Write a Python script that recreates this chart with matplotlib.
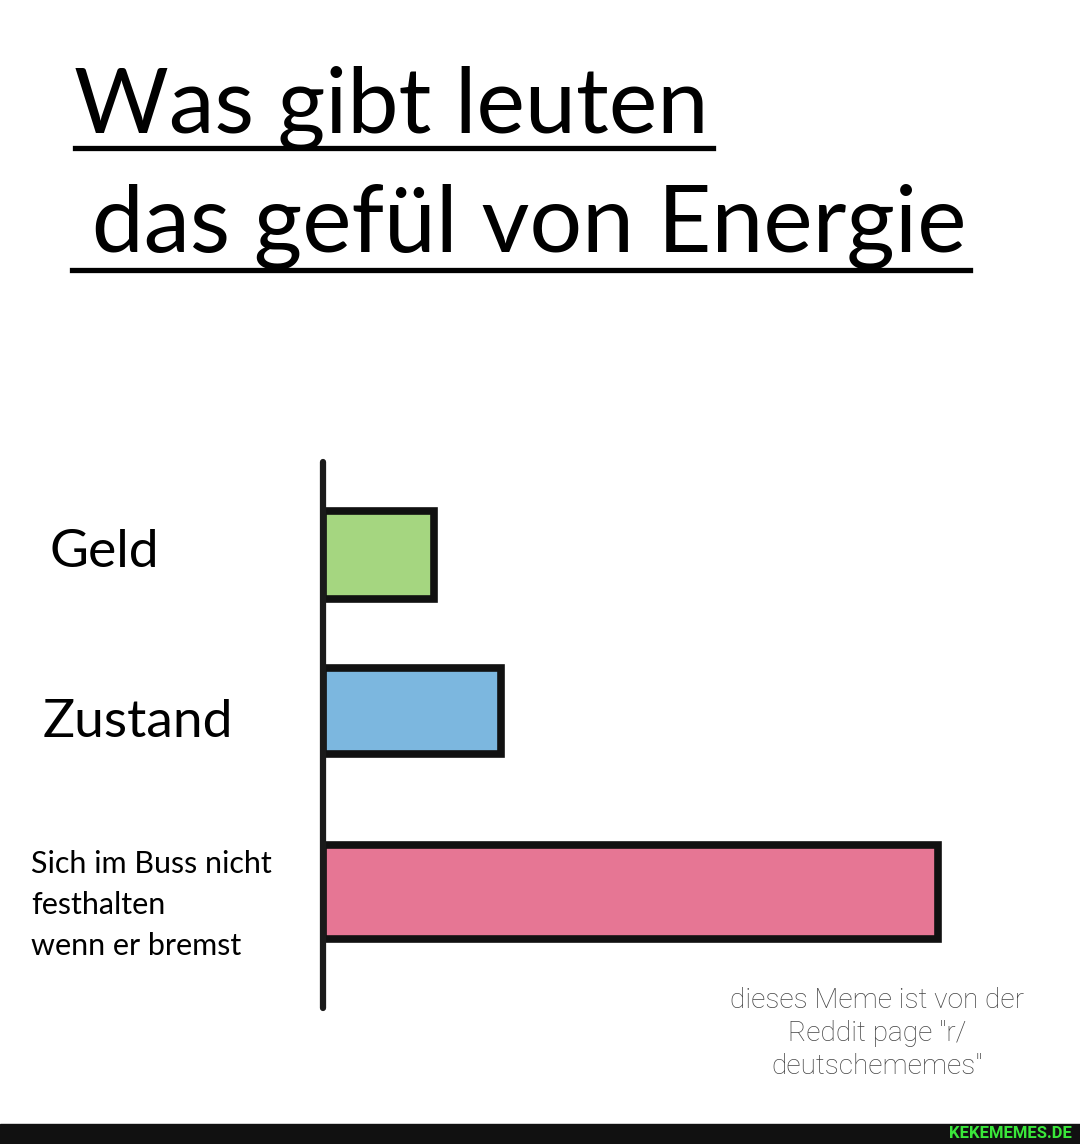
import matplotlib
matplotlib.use("Agg")
import matplotlib.pyplot as plt
from matplotlib.lines import Line2D

# ================================
# DATEN
# ================================
kategorien = ["Geld", "Zustand", "Sich im Buss nicht\nfesthalten\nwenn er bremst"]
werte = [18, 29, 100]
farben = ["#a5d680", "#7cb7df", "#e67694"]
titel = ["Was gibt leuten", " das gefül von Energie"]
notiz = 'dieses Meme ist von der\nReddit page "r/\ndeutschememes"'
quelle = "KEKEMEMES.DE"

W, H = 1080, 1144
fig = plt.figure(figsize=(W / 100, H / 100), dpi=100)
fig.patch.set_facecolor("white")


def fx(px):
    return px / W


def fy(py):
    return 1 - py / H


# ================================
# TITEL (unterstrichen)
# ================================
fig.text(fx(74), fy(133), titel[0], fontsize=66, family="Lato",
         va="baseline", ha="left", color="black")
fig.text(fx(68), fy(252), titel[1], fontsize=67, family="Lato",
         va="baseline", ha="left", color="black")
fig.add_artist(Line2D([fx(75), fx(713)], [fy(148), fy(148)], color="black",
                      lw=3.8, transform=fig.transFigure))
fig.add_artist(Line2D([fx(72), fx(970)], [fy(270), fy(270)], color="black",
                      lw=3.8, transform=fig.transFigure))

# ================================
# BALKEN
# ================================
ax = fig.add_axes([fx(323), 1 - 1008 / H, 1 - fx(323), (1008 - 462) / H])
ax.set_facecolor("none")
mitten = [555, 711, 892]
hoehen = [88, 86, 94]
ax.barh(mitten, werte, height=hoehen, color=farben, edgecolor="#111111",
        linewidth=5.5, align="center", zorder=2)
ax.set_xlim(0, 100 * (W - 323) / 615)
ax.set_ylim(1008, 462)
for s in ["top", "right", "bottom"]:
    ax.spines[s].set_visible(False)
ax.spines["left"].set_linewidth(4.5)
ax.spines["left"].set_color("#1a1a1a")
ax.spines["left"].set_capstyle("round")
ax.spines["left"].set_zorder(3)
ax.set_xticks([])
ax.set_yticks([])

# Beschriftungen links
fig.text(fx(50), fy(567), kategorien[0], fontsize=38.5, family="Lato",
         va="baseline", ha="left")
fig.text(fx(43), fy(737), kategorien[1], fontsize=38.5, family="Lato",
         va="baseline", ha="left")
for i, zeile in enumerate(kategorien[2].split("\n")):
    fig.text(fx(31), fy(873 + 41 * i), zeile, fontsize=22, family="Lato",
             va="baseline", ha="left")

# ================================
# NOTIZ + FUSSZEILE
# ================================
for i, zeile in enumerate(notiz.split("\n")):
    fig.text(fx(877), fy(1008 + 33 * i), zeile, fontsize=20.2,
             family="Roboto", weight="light", color="#444444",
             ha="center", va="baseline")
fig.add_artist(plt.Rectangle((0, 0), 1, 20 / H, color="#111111",
                             transform=fig.transFigure))
fig.text(fx(1072), fy(1134), quelle, fontsize=12, family="Roboto",
         weight="bold", color="#3ae83a", ha="right", va="center")

fig.savefig("out.png", dpi=100)
